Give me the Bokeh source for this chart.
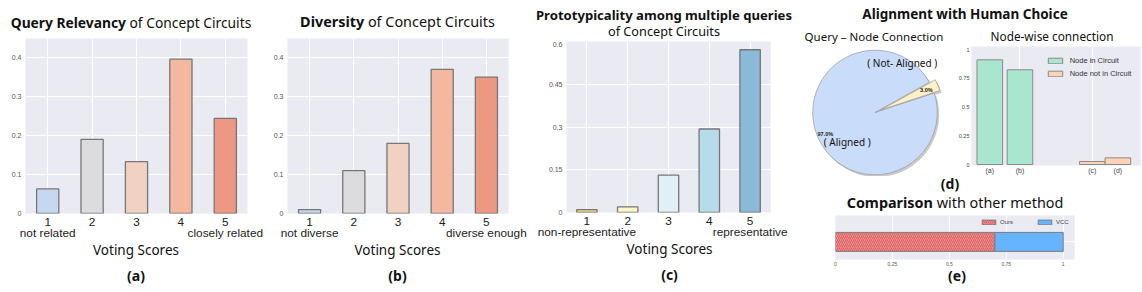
import numpy as np
from bokeh.plotting import figure
from bokeh.models import Div, FixedTicker, Range1d, Legend, LegendItem
from bokeh.layouts import row, column
from bokeh.embed import file_html
from bokeh.resources import INLINE
from bokeh.core.properties import value

# ---------------- data ----------------
scores = [1, 2, 3, 4, 5]
relevancy = [0.063, 0.190, 0.133, 0.396, 0.244]
relevancy_ticks = ["1\nnot related", "2", "3", "4", "5\nclosely related"]
diversity = [0.010, 0.110, 0.180, 0.370, 0.350]
diversity_ticks = ["1\nnot diverse", "2", "3", "4", "5\ndiverse enough"]
prototypicality = [0.010, 0.020, 0.131, 0.293, 0.571]
proto_ticks = ["1\nnon-representative", "2", "3", "4", "5\nrepresentative"]
ab_yticks = [0, 0.1, 0.2, 0.3, 0.4]
ab_ylabels = ["0", "0.1", "0.2", "0.3", "0.4"]
c_yticks = [0, 0.15, 0.3, 0.45, 0.6]
c_ylabels = ["0", "0.15", "0.3", "0.45", "0.6"]
warm_colors = ["#c6d7f2", "#dcdcde", "#f1d1c1", "#f4b8a0", "#ec9882"]
cool_colors = ["#f6d28c", "#fbf6c3", "#e1f0f5", "#b6dbea", "#8bb9d8"]

pie_names = ["( Aligned )", "( Not- Aligned )"]
pie_values = [97.0, 3.0]
pie_colors = ["#c9dcf9", "#fdf0c6"]

node_cats = ["(a)", "(b)", "(c)", "(d)"]
node_pos = [0, 1, 3.4, 4.25]
node_vals = [0.913, 0.826, 0.026, 0.058]
node_groups = ["Node in Circuit", "Node in Circuit", "Node not in Circuit", "Node not in Circuit"]
node_group_colors = {"Node in Circuit": "#a8e6cf", "Node not in Circuit": "#ffd3b6"}
unit_ticks = [0, 0.25, 0.5, 0.75, 1]
unit_labels = ["0", "0.25", "0.5", "0.75", "1"]

methods = ["Ours", "VCC"]
shares = [0.7, 0.3]
method_colors = ["#f28b8b", "#66b3ff"]

BG = "#eaeaf2"
TFONT = "Noto Sans"
AFONT = "Liberation Sans"


def tdiv(html, width, height, cx, cy, size, weight="normal", lh=None):
    lh = lh if lh is not None else round(size * 1.25)
    pad = max(cy - lh / 2.0, 0)
    inner = (f'<div style="box-sizing:border-box;width:{2*cx}px;height:{height}px;padding-top:{pad}px;'
             f'display:flex;justify-content:center;white-space:nowrap;font-family:\'{TFONT}\';'
             f'font-size:{size}px;line-height:{lh}px;font-weight:{weight};color:#111;">'
             f'<span style="text-align:center">{html}</span></div>')
    return Div(text=inner, width=width, height=height, margin=0)


def bottom_div(width, height, cx, cy1, cy2, panel):
    l1, l2 = 16, 18
    inner = (f'<div style="position:relative;width:{2*cx}px;height:{height}px;font-family:\'{TFONT}\';'
             f'color:#111;white-space:nowrap;">'
             f'<div style="position:absolute;left:0;right:0;top:{cy1 - l1/2}px;line-height:{l1}px;'
             f'font-size:13.5px;text-align:center;">Voting Scores</div>'
             f'<div style="position:absolute;left:0;right:0;top:{cy2 - l2/2}px;line-height:{l2}px;'
             f'font-size:14px;font-weight:bold;text-align:center;">{panel}</div></div>')
    return Div(text=inner, width=width, height=height, margin=0)


def clean_axis(ax):
    ax.axis_line_color = None
    ax.major_tick_line_color = None
    ax.minor_tick_line_color = None
    ax.major_tick_out = 0
    ax.major_tick_in = 0
    ax.minor_tick_out = 0
    ax.minor_tick_in = 0


def score_panel(vals, colors, ticklabels, yticks, ylabels, ytop, width, height, bl, br, bb):
    p = figure(width=width, height=height, x_range=Range1d(0.5, 5.5), y_range=Range1d(0, ytop),
               output_backend="svg", toolbar_location=None, min_border_left=bl, min_border_right=br,
               min_border_top=0, min_border_bottom=bb, margin=0)
    p.background_fill_color = BG
    p.outline_line_color = None
    p.vbar(x=scores, top=vals, width=0.5, fill_color=colors, line_color="#777777", line_width=1.3)
    p.xaxis.ticker = FixedTicker(ticks=scores)
    p.xaxis.major_label_overrides = {s: t for s, t in zip(scores, ticklabels)}
    p.yaxis.ticker = FixedTicker(ticks=yticks)
    p.yaxis.major_label_overrides = {t: l for t, l in zip(yticks, ylabels)}
    clean_axis(p.xaxis)
    clean_axis(p.yaxis)
    p.xaxis.major_label_text_font = AFONT
    p.xaxis.major_label_text_font_size = "11.8px"
    p.xaxis.major_label_text_color = "#222"
    p.xaxis.major_label_text_line_height = 0.85
    p.xaxis.major_label_standoff = 1
    p.yaxis.major_label_text_font = AFONT
    p.yaxis.major_label_text_font_size = "7px"
    p.yaxis.major_label_text_color = "#555"
    p.yaxis.major_label_standoff = 4
    p.xgrid.ticker = FixedTicker(ticks=scores)
    p.ygrid.ticker = FixedTicker(ticks=yticks)
    p.grid.grid_line_color = "white"
    p.grid.grid_line_width = 1
    return p


# ---------------- (a) ----------------
title_a = tdiv("<b>Query Relevancy</b> of Concept Circuits", 270, 38, 131, 22, 13.8)
fig_a = score_panel(relevancy, warm_colors, relevancy_ticks, ab_yticks, ab_ylabels, 0.449,
                    270, 205, 25, 23, 30)
bot_a = bottom_div(270, 49, 136, 7, 33, "(a)")
col_a = column(title_a, fig_a, bot_a, spacing=0, margin=0)

# ---------------- (b) ----------------
title_b = tdiv("<b>Diversity</b> of Concept Circuits", 263, 38, 127.5, 22, 14.4)
fig_b = score_panel(diversity, warm_colors, diversity_ticks, ab_yticks, ab_ylabels, 0.449,
                    263, 205, 17, 25, 30)
bot_b = bottom_div(263, 49, 127.5, 7, 33, "(b)")
col_b = column(title_b, fig_b, bot_b, spacing=0, margin=0)

# ---------------- (c) ----------------
title_c = tdiv('<b style="font-size:13.1px">Prototypicality among multiple queries</b><br>'
               '<span style="font-size:12.7px">of Concept Circuits</span>', 259, 41, 131, 15, 13, lh=16)
fig_c = score_panel(prototypicality, cool_colors, proto_ticks, c_yticks, c_ylabels, 0.6,
                    259, 201, 33, 22, 30)
bot_c = bottom_div(259, 50, 136.5, 7.3, 33, "(c)")
col_c = column(title_c, fig_c, bot_c, spacing=0, margin=0)

# ---------------- (d) pie ----------------
fig_pie = figure(width=163, height=128, x_range=Range1d(-1.324, 1.292), y_range=Range1d(-1.027, 1.027),
                 output_backend="svg", toolbar_location=None, min_border=0, margin=0)
fig_pie.axis.visible = False
fig_pie.grid.visible = False
fig_pie.outline_line_color = None
start_deg = 29.0
explode = [0.0, 0.1]
fracs = np.array(pie_values) / np.sum(pie_values)
ends = np.deg2rad(start_deg) + 2 * np.pi * np.cumsum(fracs)
starts = ends - 2 * np.pi * fracs
mids = (starts + ends) / 2
cx = np.array(explode) * np.cos(mids)
cy = np.array(explode) * np.sin(mids)
fig_pie.wedge(x=cx + 0.03, y=cy - 0.035, radius=1, start_angle=starts, end_angle=ends,
              fill_color="#8a8a8a", fill_alpha=0.45, line_color=None)
fig_pie.wedge(x=cx, y=cy, radius=1, start_angle=starts, end_angle=ends,
              fill_color=pie_colors, line_color="#9a9a9a", line_width=0.7)
pct_r = np.array([0.87, 0.8])
fig_pie.text(x=cx + pct_r * np.cos(mids), y=cy + pct_r * np.sin(mids),
             text=[f"{v:.1f}%" for v in pie_values], text_font=value(AFONT),
             text_font_size=value("5.5px"), text_font_style="bold", text_color="#222",
             text_align="center", text_baseline="middle")
fig_pie.text(x=[-0.446, 0.437], y=[-0.477, 0.791], text=pie_names, text_font=value(TFONT),
             text_font_size=value("10px"), text_color="#111", text_align="center",
             text_baseline="middle")
sub_pie = tdiv("Query &ndash; Node Connection", 163, 25, 82, 13.7, 11.5)
pie_col = column(sub_pie, fig_pie, spacing=0, margin=0)

# ---------------- (d) node-wise bars ----------------
fig_node = figure(width=187, height=130, x_range=Range1d(-0.607, 5.0), y_range=Range1d(-0.0087, 1.029),
                  output_backend="svg", toolbar_location=None, min_border_left=14, min_border_right=2,
                  min_border_top=0, min_border_bottom=11, margin=0)
fig_node.background_fill_color = BG
fig_node.outline_line_color = None
items = []
for g, col in node_group_colors.items():
    xs = [x for x, gg in zip(node_pos, node_groups) if gg == g]
    vs = [v for v, gg in zip(node_vals, node_groups) if gg == g]
    r = fig_node.vbar(x=xs, top=vs, width=0.85, fill_color=col, line_color="#8a8a8a", line_width=1.0)
    items.append(LegendItem(label=g, renderers=[r]))
leg = Legend(items=items, location=(74.7, 86.3), orientation="vertical", padding=0, margin=0,
             spacing=3, label_height=10, glyph_height=7, glyph_width=18, label_standoff=6,
             label_text_font=AFONT, label_text_font_size="7.5px", label_text_color="#333",
             border_line_color=None, background_fill_alpha=0)
fig_node.add_layout(leg, "center")
fig_node.xaxis.ticker = FixedTicker(ticks=node_pos)
fig_node.xaxis.major_label_overrides = {p: c for p, c in zip(node_pos, node_cats)}
fig_node.yaxis.ticker = FixedTicker(ticks=unit_ticks)
fig_node.yaxis.major_label_overrides = {t: l for t, l in zip(unit_ticks, unit_labels)}
for ax in (fig_node.xaxis, fig_node.yaxis):
    clean_axis(ax)
    ax.major_label_text_font = AFONT
    ax.major_label_text_color = "#444"
fig_node.xaxis.major_label_text_font_size = "7px"
fig_node.xaxis.major_label_standoff = 1
fig_node.yaxis.major_label_text_font_size = "5.5px"
fig_node.yaxis.major_label_standoff = 2
fig_node.xgrid.ticker = FixedTicker(ticks=[1, 3.4])
fig_node.ygrid.visible = False
fig_node.grid.grid_line_color = "white"
sub_node = tdiv("Node-wise connection", 187, 23, 97, 13, 11.8)
node_col = column(sub_node, fig_node, spacing=0, margin=0)

# ---------------- (e) ----------------
fig_e = figure(width=350, height=53, x_range=Range1d(0, 1.0496), y_range=Range1d(-0.464, 0.696),
               output_backend="svg", toolbar_location=None, min_border_left=43, min_border_right=68,
               min_border_top=0, min_border_bottom=8, margin=0)
fig_e.background_fill_color = BG
fig_e.outline_line_color = None
lefts = np.concatenate([[0], np.cumsum(shares)[:-1]])
rights = np.cumsum(shares)
r_ours = fig_e.hbar(y=[0], left=[lefts[0]], right=[rights[0]], height=0.5, fill_color=method_colors[0],
                    line_color="#7d7d7d", line_width=1.0, hatch_pattern="/", hatch_color="#c94f4f",
                    hatch_scale=4, hatch_weight=0.7)
r_vcc = fig_e.hbar(y=[0], left=[lefts[1]], right=[rights[1]], height=0.5, fill_color=method_colors[1],
                   line_color="#7d7d7d", line_width=1.0)
leg_e = Legend(items=[LegendItem(label=methods[0], renderers=[r_ours]),
                      LegendItem(label=methods[1], renderers=[r_vcc])],
               location=(145, 33.2), orientation="horizontal", padding=0, margin=0, spacing=16,
               label_height=7, glyph_height=6, glyph_width=17, label_standoff=3,
               label_text_font=AFONT, label_text_font_size="6px", label_text_color="#444",
               border_line_color=None, background_fill_alpha=0)
fig_e.add_layout(leg_e, "center")
fig_e.xaxis.ticker = FixedTicker(ticks=unit_ticks)
fig_e.xaxis.major_label_overrides = {t: l for t, l in zip(unit_ticks, unit_labels)}
clean_axis(fig_e.xaxis)
fig_e.xaxis.major_label_text_font = AFONT
fig_e.xaxis.major_label_text_font_size = "5px"
fig_e.xaxis.major_label_text_color = "#555"
fig_e.xaxis.major_label_standoff = 2
fig_e.yaxis.visible = False
fig_e.xgrid.ticker = FixedTicker(ticks=unit_ticks)
fig_e.ygrid.ticker = FixedTicker(ticks=[0])
fig_e.grid.grid_line_color = "white"
fig_e.grid.grid_line_alpha = 0.8

title_d = tdiv("Alignment with Human Choice", 350, 23, 173, 14, 13.5, "bold", lh=16)
lab_d = tdiv("(d)", 350, 15, 158, 7.5, 14, "bold", lh=15)
title_e = tdiv("<b>Comparison</b> with other method", 350, 24, 163, 12.3, 14.4, lh=18)
lab_e = tdiv("(e)", 350, 24, 165, 8, 14, "bold", lh=16)
col_de = column(title_d, row(pie_col, node_col, spacing=0, margin=0), lab_d, title_e, fig_e, lab_e,
                spacing=0, margin=0)

layout = row(col_a, col_b, col_c, col_de, spacing=0, margin=0)
open("out.html", "w").write(file_html(layout, INLINE))
